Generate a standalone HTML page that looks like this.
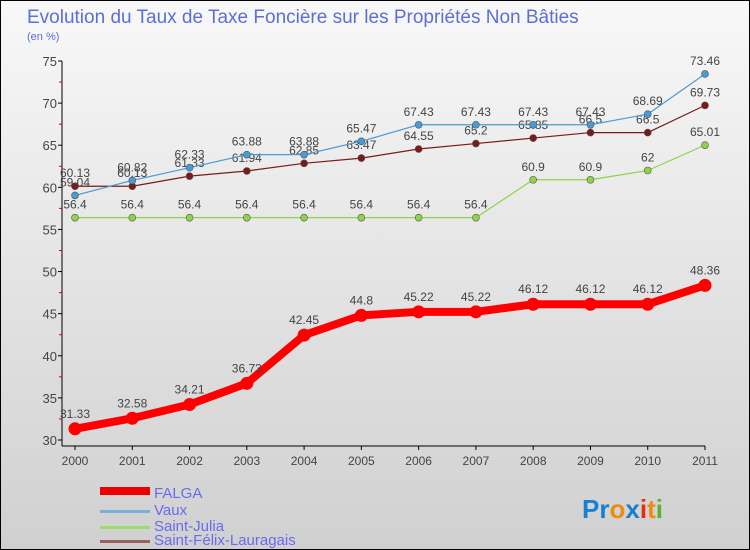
<!DOCTYPE html>
<html><head><meta charset="utf-8"><style>
body{margin:0;background:#fff}
svg{display:block;font-family:"Liberation Sans","DejaVu Sans",sans-serif}
</style></head><body>
<svg width="750" height="550" xmlns="http://www.w3.org/2000/svg">
<defs><linearGradient id="bg" x1="0" y1="0" x2="0" y2="1"><stop offset="0" stop-color="#f8f8f8"/><stop offset="1" stop-color="#d0d0d0"/></linearGradient></defs>
<rect x="0.5" y="0.5" width="749" height="549" fill="url(#bg)" stroke="#000"/>
<text x="27" y="23" font-size="19" fill="#5b6fd6">Evolution du Taux de Taxe Foncière sur les Propriétés Non Bâties</text>
<text x="27" y="40" font-size="11" fill="#5b6fd6">(en %)</text>
<g id="axes"></g><g id="series"></g>
<g>
<rect x="100" y="487" width="50" height="8" fill="#e00"/>
<text x="154" y="498" font-size="15" fill="#6a6af0">FALGA</text>
<rect x="100" y="510" width="50" height="3" fill="#7ab0d8"/>
<text x="154" y="515" font-size="15" fill="#6a6af0">Vaux</text>
<rect x="100" y="526" width="50" height="3" fill="#9cdc6a"/>
<text x="154" y="531" font-size="15" fill="#6a6af0">Saint-Julia</text>
<rect x="100" y="540" width="50" height="3" fill="#9a6060"/>
<text x="154" y="545" font-size="15" fill="#6a6af0">Saint-Félix-Lauragais</text>
</g>
<text x="582" y="518" font-size="26" font-weight="bold"><tspan fill="#1a7fd0">Pr</tspan><tspan fill="#f08a10">o</tspan><tspan fill="#1a7fd0">x</tspan><tspan fill="#e03010">i</tspan><tspan fill="#f08a10">t</tspan><tspan fill="#60b030">i</tspan></text>
</svg>
<script>
const years=[2000,2001,2002,2003,2004,2005,2006,2007,2008,2009,2010,2011];
const falga=[31.33,32.58,34.21,36.73,42.45,44.8,45.22,45.22,46.12,46.12,46.12,48.36];
const vaux=[59.04,60.82,62.33,63.88,63.88,65.47,67.43,67.43,67.43,67.43,68.69,73.46];
const julia=[56.4,56.4,56.4,56.4,56.4,56.4,56.4,56.4,60.9,60.9,62,65.01];
const felix=[60.13,60.13,61.33,61.94,62.85,63.47,64.55,65.2,65.85,66.5,66.5,69.73];
const yTicks=[30,35,40,45,50,55,60,65,70,75];
const NS="http://www.w3.org/2000/svg";
const X=i=>75+i*(630/11), Y=v=>440-(v-30)*(379/45);
function mk(p,t,a){const e=document.createElementNS(NS,t);for(const k in a)e.setAttribute(k,a[k]);p.appendChild(e);return e;}
const ax=document.getElementById('axes'), sg=document.getElementById('series');
mk(ax,'line',{x1:62,y1:Y(75),x2:62,y2:446,stroke:'#000'});
mk(ax,'line',{x1:62,y1:446,x2:705,y2:446,stroke:'#000'});
yTicks.forEach(v=>{
 const t=mk(ax,'text',{x:57,y:Y(v)+5,'font-size':13,'text-anchor':'end',fill:'#444'});t.textContent=v;
 
 
 mk(ax,'line',{x1:58,y1:Y(v),x2:62,y2:Y(v),stroke:'#000'});
 if(v<75)mk(ax,'line',{x1:59,y1:Y(v+2.5),x2:62,y2:Y(v+2.5),stroke:'#d00'});
});
years.forEach((yr,i)=>{
 mk(ax,'line',{x1:X(i),y1:446,x2:X(i),y2:450,stroke:'#000'});
 const t=mk(ax,'text',{x:X(i),y:465,'font-size':12,'text-anchor':'middle',fill:'#444'});t.textContent=yr;
 
 
});
function series(d,color,lw,r,name,lbl){
 const g=mk(sg,'g',{});
 
 
 mk(g,'polyline',{points:d.map((v,i)=>X(i)+','+Y(v)).join(' '),fill:'none',stroke:color,'stroke-width':lw,'stroke-linejoin':'round'});
 d.forEach((v,i)=>{
  const c=mk(g,'circle',{cx:X(i),cy:Y(v),r:r,fill:color,stroke:'#555','stroke-width':lw>3?0:0.6});
  
  
  const t=mk(g,'text',{x:X(i),y:Y(v)-lbl,'font-size':12,'text-anchor':'middle',fill:'#444'});t.textContent=v;
  
  
 });
}
series(julia,'#8ed34a',1.2,3.5,'saint-julia',9);
series(felix,'#7a1a1a',1.2,3.5,'saint-felix',9);
series(vaux,'#4a9ad6',1.2,3.5,'vaux',9);
series(falga,'#f00',8,6.5,'falga',11);
</script>
</body></html>
